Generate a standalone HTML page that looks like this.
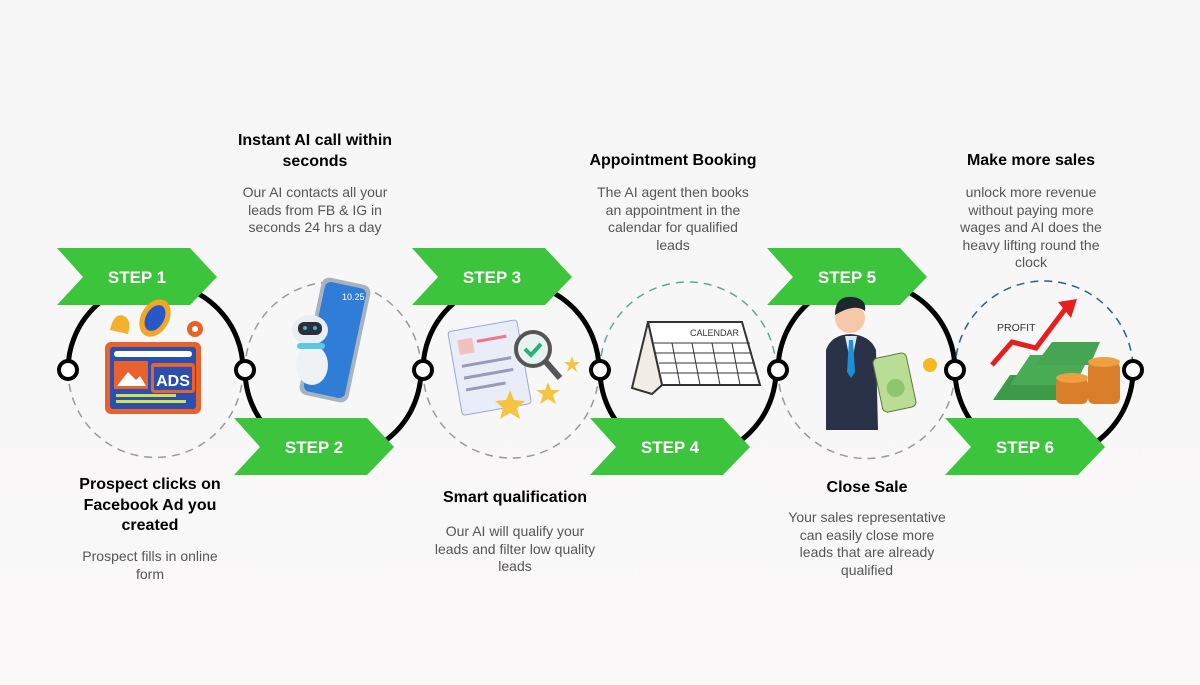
<!DOCTYPE html>
<html><head><meta charset="utf-8"><style>
body{margin:0;width:1200px;height:685px;overflow:hidden;background:linear-gradient(180deg,#f6f6f6,#faf8f8);font-family:"Liberation Sans",sans-serif;position:relative}
.t{position:absolute;text-align:center;color:#000;font-weight:bold;font-size:16px;line-height:20.5px}
.d{position:absolute;text-align:center;color:#555;font-size:14px;line-height:17.5px}
svg{position:absolute;left:0;top:0}
</style></head><body>
<svg width="1200" height="685" viewBox="0 0 1200 685">
<g fill="none" stroke-width="5">
<path d="M68 370 A87.5 87.5 0 0 1 243 370" stroke="#000"/>
<path d="M68 370 A87.5 87.5 0 0 0 243 370" stroke="#999" stroke-width="1.5" stroke-dasharray="8 6"/>
<path d="M245 370 A88 88 0 0 1 421 370" stroke="#999" stroke-width="1.5" stroke-dasharray="8 6"/>
<path d="M245 370 A88 88 0 0 0 421 370" stroke="#000"/>
<path d="M423 370 A88 88 0 0 1 599 370" stroke="#000"/>
<path d="M423 370 A88 88 0 0 0 599 370" stroke="#999" stroke-width="1.5" stroke-dasharray="8 6"/>
<path d="M600 370 A88 88 0 0 1 776 370" stroke="#5aa89a" stroke-width="1.5" stroke-dasharray="8 6"/>
<path d="M600 370 A88 88 0 0 0 776 370" stroke="#000"/>
<path d="M778 370 A88.5 88.5 0 0 1 955 370" stroke="#000"/>
<path d="M778 370 A88.5 88.5 0 0 0 955 370" stroke="#999" stroke-width="1.5" stroke-dasharray="8 6"/>
<path d="M955 370 A89 89 0 0 1 1133 370" stroke="#2c5f85" stroke-width="1.5" stroke-dasharray="8 6"/>
<path d="M955 370 A89 89 0 0 0 1133 370" stroke="#000"/>
</g>
<g fill="#fff" stroke="#000" stroke-width="4">
<circle cx="68" cy="370" r="9"/><circle cx="245" cy="370" r="9"/><circle cx="423" cy="370" r="9"/><circle cx="600" cy="370" r="9"/><circle cx="778" cy="370" r="9"/><circle cx="955" cy="370" r="9"/><circle cx="1133" cy="370" r="9"/>
</g>
<g fill="#3cc43c">
<polygon points="57,248 190,248 217,277 190,305 57,305 83,277"/>
<polygon points="234,418 367,418 394,447 367,475 234,475 260,447"/>
<polygon points="412,248 545,248 572,277 545,305 412,305 438,277"/>
<polygon points="590,418 723,418 750,447 723,475 590,475 616,447"/>
<polygon points="767,248 900,248 927,277 900,305 767,305 793,277"/>
<polygon points="945,418 1078,418 1105,447 1078,475 945,475 971,447"/>
</g>
<g fill="#fff" font-family="Liberation Sans" font-weight="bold" font-size="17" text-anchor="middle">
<text x="137" y="283">STEP 1</text><text x="314" y="453">STEP 2</text><text x="492" y="283">STEP 3</text><text x="670" y="453">STEP 4</text><text x="847" y="283">STEP 5</text><text x="1025" y="453">STEP 6</text>
</g>
<rect x="105" y="342" width="96" height="72" rx="6" fill="#e8632b"/>
<rect x="110" y="347" width="86" height="62" rx="3" fill="#2b4fb0"/>
<rect x="114" y="351" width="78" height="6" rx="3" fill="#fff"/>
<rect x="114" y="361" width="34" height="28" fill="#e8632b"/>
<polygon points="117,386 128,372 136,380 140,376 146,386" fill="#fff"/>
<rect x="151" y="363" width="44" height="30" rx="3" fill="#e8632b"/><rect x="154" y="367" width="38" height="23" fill="#2b4fb0"/>
<text x="173" y="386" fill="#fff" font-size="16" font-weight="bold" text-anchor="middle" font-family="Liberation Sans">ADS</text>
<rect x="116" y="394" width="60" height="3" fill="#d4e04a"/><rect x="116" y="400" width="70" height="3" fill="#d4e04a"/>
<ellipse cx="155" cy="318" rx="14" ry="20" fill="#f2a626" transform="rotate(30 155 318)"/><ellipse cx="155" cy="318" rx="9" ry="14" fill="#2b56c9" transform="rotate(30 155 318)"/>
<path d="M110 330 q4 -18 14 -14 q8 4 4 18 z" fill="#f2b02d"/>
<circle cx="195" cy="329" r="8" fill="#e8632b"/><circle cx="195" cy="329" r="3" fill="#fff"/>
<g transform="rotate(12 335 340)"><rect x="310" y="280" width="50" height="120" rx="8" fill="#a9b3bf"/><rect x="314" y="284" width="42" height="112" rx="6" fill="#2f7dd6"/></g>
<text x="342" y="300" fill="#fff" font-size="9" font-family="Liberation Sans">10.25</text>
<ellipse cx="310" cy="330" rx="18" ry="15" fill="#e8eef3"/><rect x="298" y="322" width="24" height="13" rx="6" fill="#2a2f3a"/>
<circle cx="305" cy="328" r="2" fill="#4ad"/><circle cx="315" cy="328" r="2" fill="#4ad"/>
<ellipse cx="312" cy="365" rx="16" ry="20" fill="#eef2f5"/><rect x="297" y="343" width="28" height="6" rx="3" fill="#5cc8e0"/>
<g transform="rotate(-10 490 370)"><rect x="455" y="325" width="70" height="85" rx="3" fill="#e9edf8" stroke="#9aa8d0"/><rect x="463" y="335" width="15" height="15" fill="#f3c0c0"/><rect x="482" y="338" width="30" height="3" fill="#e78"/><rect x="463" y="360" width="50" height="3" fill="#99b"/><rect x="463" y="372" width="50" height="3" fill="#99b"/><rect x="463" y="384" width="40" height="3" fill="#99b"/></g>
<circle cx="533" cy="349" r="17" fill="#e6f3f0" stroke="#555" stroke-width="4"/><path d="M525 349 l6 6 l10 -11" stroke="#2bb07a" stroke-width="4" fill="none"/>
<line x1="546" y1="362" x2="560" y2="378" stroke="#555" stroke-width="6"/>
<polygon points="510,390 514,400 525,401 517,408 520,419 510,413 500,419 503,408 495,401 506,400" fill="#f5c542"/>
<polygon points="548,382 551,390 560,390 553,395 556,404 548,399 540,404 543,395 536,390 545,390" fill="#f5c542"/>
<polygon points="572,356 574,362 580,362 575,366 577,372 572,368 567,372 569,366 564,362 570,362" fill="#f5c542"/>
<polygon points="648,322 742,322 760,385 662,385" fill="#fff" stroke="#333" stroke-width="2"/>
<polygon points="648,322 632,388 652,394 662,385" fill="#f2ede4" stroke="#333" stroke-width="2"/>
<text x="690" y="336" font-size="9" font-family="Liberation Sans" fill="#333">CALENDAR</text>
<g stroke="#333" stroke-width="1"><line x1="654" y1="343" x2="750" y2="343"/><line x1="656" y1="353" x2="752" y2="353"/><line x1="659" y1="363" x2="755" y2="363"/><line x1="661" y1="373" x2="757" y2="373"/><line x1="672" y1="343" x2="680" y2="385"/><line x1="692" y1="343" x2="700" y2="385"/><line x1="712" y1="343" x2="720" y2="385"/><line x1="732" y1="343" x2="740" y2="385"/></g>
<circle cx="850" cy="318" r="15" fill="#f5c8a8"/><path d="M835 315 q0 -20 18 -18 q14 2 12 14 q-10 -8 -30 4z" fill="#1e2630"/>
<path d="M826 350 q5 -15 24 -16 q20 1 26 16 l2 80 h-52z" fill="#2a3247"/>
<polygon points="845,336 857,336 851,365" fill="#d8e8f8"/><polygon points="849,340 853,340 855,372 851,378 847,372" fill="#1d8fd6"/>
<g transform="rotate(-12 895 385)"><rect x="878" y="355" width="34" height="55" rx="5" fill="#b9dd95" stroke="#5a7a3a"/><circle cx="895" cy="388" r="9" fill="#8dc46d"/></g>
<circle cx="930" cy="365" r="7" fill="#f4b820"/>
<text x="997" y="331" font-size="10.5" font-family="Liberation Sans" fill="#333">PROFIT</text>
<polyline points="992,365 1012,342 1036,348 1066,308" fill="none" stroke="#e51e1e" stroke-width="5"/>
<polygon points="1058,302 1077,299 1071,318" fill="#e51e1e"/>
<polygon points="993,400 1010,375 1072,375 1060,400" fill="#3c9a48"/>
<polygon points="1010,385 1030,355 1090,355 1075,385" fill="#4aab55"/>
<polygon points="1035,365 1052,342 1100,342 1090,365" fill="#46a552"/>
<rect x="1056" y="378" width="32" height="26" rx="6" fill="#d97f2c"/><rect x="1088" y="362" width="32" height="42" rx="6" fill="#d97f2c"/>
<ellipse cx="1072" cy="378" rx="16" ry="5" fill="#eea040"/><ellipse cx="1104" cy="362" rx="16" ry="5" fill="#eea040"/>
</svg>

<div class="t" style="left:50px;top:475px;width:200px">Prospect clicks on<br>Facebook Ad you<br>created</div>
<div class="d" style="left:50px;top:548px;width:200px">Prospect fills in online<br>form</div>

<div class="t" style="left:215px;top:131px;width:200px">Instant AI call within<br>seconds</div>
<div class="d" style="left:205px;top:184px;width:220px">Our AI contacts all your<br>leads from FB &amp; IG in<br>seconds 24 hrs a day</div>

<div class="t" style="left:405px;top:488px;width:220px">Smart qualification</div>
<div class="d" style="left:410px;top:523px;width:210px">Our AI will qualify your<br>leads and filter low quality<br>leads</div>

<div class="t" style="left:563px;top:151px;width:220px">Appointment Booking</div>
<div class="d" style="left:563px;top:184px;width:220px">The AI agent then books<br>an appointment in the<br>calendar for qualified<br>leads</div>

<div class="t" style="left:757px;top:478px;width:220px">Close Sale</div>
<div class="d" style="left:762px;top:509px;width:210px">Your sales representative<br>can easily close more<br>leads that are already<br>qualified</div>

<div class="t" style="left:921px;top:151px;width:220px">Make more sales</div>
<div class="d" style="left:921px;top:184px;width:220px">unlock more revenue<br>without paying more<br>wages and AI does the<br>heavy lifting round the<br>clock</div>
</body></html>
